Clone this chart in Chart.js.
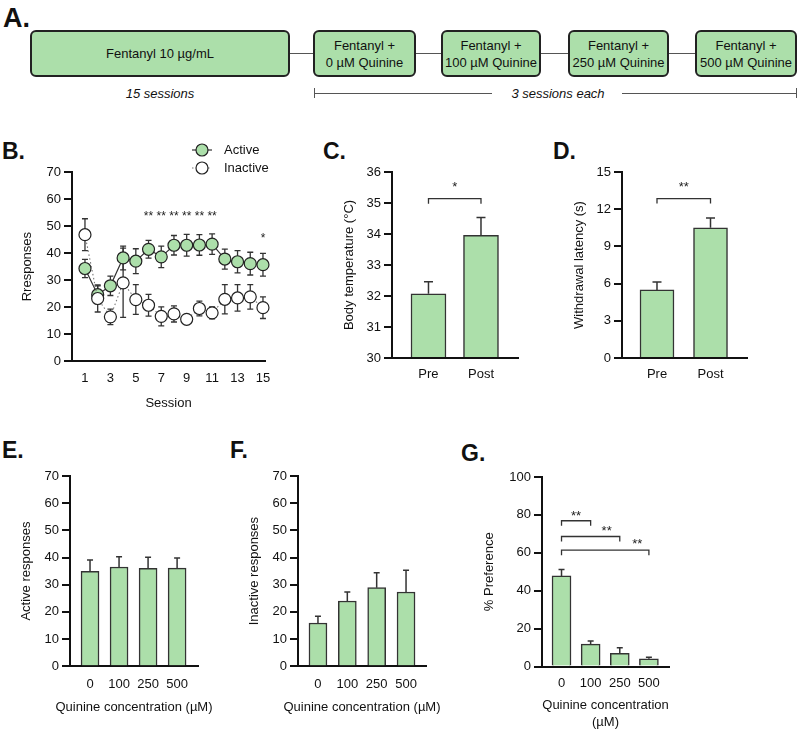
<!DOCTYPE html>
<html><head><meta charset="utf-8">
<script src="https://cdn.jsdelivr.net/npm/chart.js@4.4.0/dist/chart.umd.min.js"></script>
<style>
html,body{margin:0;padding:0;background:#fff;}
body{width:800px;height:729px;position:relative;overflow:hidden;font-family:'Liberation Sans',Arial,sans-serif;color:#111;}
.lbl{position:absolute;font-weight:bold;font-size:23px;line-height:1;}
.box{position:absolute;box-sizing:border-box;background:#acdfaa;border:2px solid #222;border-radius:6px;display:flex;align-items:center;justify-content:center;text-align:center;font-size:13px;line-height:17px;white-space:nowrap;}
.hl{position:absolute;height:0;border-top:1.5px solid #555;}
.vl{position:absolute;width:0;border-left:1.5px solid #555;}
.it{position:absolute;font-style:italic;font-size:13px;transform:translate(-50%,-50%);white-space:nowrap;}
canvas{position:absolute;}
</style></head><body>
<div class="lbl" style="left:3px;top:5px;font-size:27px;">A.</div>
<div class="box" style="left:30px;top:30px;width:260px;height:47px;">Fentanyl 10 µg/mL</div>
<div class="box" style="left:313px;top:30px;width:103px;height:47px;">Fentanyl +<br>0 µM Quinine</div>
<div class="box" style="left:441px;top:30px;width:100px;height:47px;">Fentanyl +<br>100 µM Quinine</div>
<div class="box" style="left:568px;top:30px;width:101px;height:47px;">Fentanyl +<br>250 µM Quinine</div>
<div class="box" style="left:695px;top:30px;width:102px;height:47px;">Fentanyl +<br>500 µM Quinine</div>
<div class="hl" style="left:290px;top:53px;width:23px;"></div>
<div class="hl" style="left:416px;top:53px;width:25px;"></div>
<div class="hl" style="left:541px;top:53px;width:27px;"></div>
<div class="hl" style="left:669px;top:53px;width:26px;"></div>
<div class="it" style="left:160px;top:93px;">15 sessions</div>
<div class="vl" style="left:314px;top:88px;height:10px;"></div>
<div class="hl" style="left:314px;top:93px;width:178px;"></div>
<div class="it" style="left:558px;top:93px;">3 sessions each</div>
<div class="hl" style="left:622px;top:93px;width:175px;"></div>
<div class="vl" style="left:796px;top:88px;height:10px;"></div>

<div class="lbl" style="left:2px;top:140px;">B.</div>
<div class="lbl" style="left:323px;top:140px;">C.</div>
<div class="lbl" style="left:553px;top:140px;">D.</div>
<div class="lbl" style="left:2px;top:439px;">E.</div>
<div class="lbl" style="left:230px;top:439px;">F.</div>
<div class="lbl" style="left:461px;top:442px;">G.</div>

<script>
// ---------- data ----------
const sessions = [1,2,3,4,5,6,7,8,9,10,11,12,13,14,15];
const sessionTicks = [1,3,5,7,9,11,13,15];
const activeMean = [34.3,24.6,27.9,38.2,37.0,41.4,38.6,42.9,42.9,43.0,43.3,37.8,36.8,36.1,35.7];
const activeSem  = [3.4,3.3,3.6,4.4,4.6,3.3,4.0,3.6,4.0,3.8,3.8,3.7,4.1,4.2,4.2];
const inactiveMean = [46.8,23.2,16.4,29.0,22.8,20.7,16.6,17.5,15.5,19.5,17.9,22.9,23.4,23.8,19.8];
const inactiveSem  = [5.9,5.0,2.9,12.8,5.5,4.0,3.5,3.0,1.0,2.7,2.2,5.4,4.9,4.5,4.0];
const sigSessions = [6,7,8,9,10,11,15];
const sigMarks = ['**','**','**','**','**','**','*'];

const prePostLabels = ['Pre','Post'];
const bodyTemp = [32.07, 33.96];
const bodyTempSem = [0.39, 0.57];
const latency = [5.49, 10.5];
const latencySem = [0.64, 0.8];

const quinineLabels = ['0','100','250','500'];
const activeResp = [34.9, 36.5, 36.0, 36.1];
const activeRespSem = [4.2, 3.8, 4.1, 3.7];
const inactiveResp = [15.9, 24.0, 28.9, 27.3];
const inactiveRespSem = [2.5, 3.3, 5.5, 8.0];
const preference = [47.8, 11.8, 7.0, 4.1];
const preferenceSem = [3.4, 1.6, 2.9, 0.8];

// ---------- styling ----------
const GREEN = '#acdfaa';
const INK = '#111';
const FAM = "'Liberation Sans', Arial, sans-serif";
Chart.defaults.font.family = FAM;
Chart.defaults.font.size = 13;
Chart.defaults.color = INK;
Chart.defaults.animation = false;
Chart.defaults.plugins.legend.display = false;
Chart.defaults.plugins.tooltip.enabled = false;

function drawErr(chart, opts){
  const {ctx, scales:{x, y}} = chart;
  ctx.save();
  ctx.strokeStyle = opts.color || '#333';
  ctx.lineWidth = opts.width || 1.4;
  const cap = opts.cap || 6;
  opts.sets.forEach(set => {
    set.xs.forEach((xv, i) => {
      const px = x.getPixelForValue(xv);
      const m = set.mean[i], e = set.sem[i];
      const pt = y.getPixelForValue(m + e), pm = y.getPixelForValue(m), pb = y.getPixelForValue(m - e);
      ctx.beginPath();
      ctx.moveTo(px, set.both ? pb : pm); ctx.lineTo(px, pt);
      ctx.moveTo(px - cap/2, pt); ctx.lineTo(px + cap/2, pt);
      if (set.both) { ctx.moveTo(px - cap/2, pb); ctx.lineTo(px + cap/2, pb); }
      ctx.stroke();
    });
  });
  ctx.restore();
}
const errorBars = {
  id: 'errorBars',
  beforeDatasetsDraw(chart, args, opts){ if (opts && opts.sets && opts.under) drawErr(chart, opts); },
  afterDatasetsDraw(chart, args, opts){ if (opts && opts.sets && !opts.under) drawErr(chart, opts); }
};
const annot = {
  id: 'annot',
  afterDraw(chart, args, opts){
    if (!opts || !opts.items) return;
    const {ctx, scales:{x, y}} = chart;
    ctx.save();
    opts.items.forEach(it => {
      if (it.type === 'bracket') {
        const x1 = x.getPixelForValue(it.x1), x2 = x.getPixelForValue(it.x2), py = y.getPixelForValue(it.y);
        ctx.strokeStyle = '#333'; ctx.lineWidth = 1.3;
        ctx.beginPath();
        ctx.moveTo(x1, py + it.drop); ctx.lineTo(x1, py); ctx.lineTo(x2, py); ctx.lineTo(x2, py + it.drop);
        ctx.stroke();
      } else if (it.type === 'text') {
        const size = it.size || 13;
        ctx.fillStyle = '#222';
        ctx.font = size + "px " + FAM;
        ctx.textAlign = 'center'; ctx.textBaseline = 'alphabetic';
        ctx.fillText(it.text, x.getPixelForValue(it.x), y.getPixelForValue(it.y) + 0.57 * size);
      }
    });
    ctx.restore();
  }
};
const xTitleFree = {
  id: 'xTitleFree',
  afterDraw(chart, args, opts){
    if (!opts || !opts.lines) return;
    const {ctx, chartArea} = chart;
    ctx.save();
    ctx.fillStyle = INK; ctx.font = "13px " + FAM;
    ctx.textAlign = 'center'; ctx.textBaseline = 'middle';
    const cx = (chartArea.left + chartArea.right) / 2;
    opts.lines.forEach((t, k) => ctx.fillText(t, cx, opts.y + k * opts.lh));
    ctx.restore();
  }
};
const legendB = {
  id: 'legendB',
  afterDraw(chart, args, opts){
    if (!opts || !opts.items) return;
    const {ctx, chartArea} = chart;
    ctx.save();
    opts.items.forEach((it, k) => {
      const cx = chartArea.left + opts.dx, cy = chartArea.top + opts.dy + k * opts.gap;
      ctx.strokeStyle = it.line; ctx.lineWidth = 1.2;
      ctx.setLineDash(it.dash || []);
      ctx.beginPath(); ctx.moveTo(cx - 10, cy); ctx.lineTo(cx + 10, cy); ctx.stroke();
      ctx.setLineDash([]);
      ctx.beginPath(); ctx.arc(cx, cy, 6, 0, Math.PI * 2);
      ctx.fillStyle = it.fill; ctx.fill();
      ctx.strokeStyle = '#222'; ctx.lineWidth = 1.2; ctx.stroke();
      ctx.fillStyle = INK; ctx.font = "13px " + FAM;
      ctx.textAlign = 'left'; ctx.textBaseline = 'middle';
      ctx.fillText(it.label, cx + 22, cy);
    });
    ctx.restore();
  }
};

function panel(cfg){
  const lh = 15.6;
  const cl = Math.round(cfg.yTitleX - lh / 2);
  const padTop = 45, padRight = 25, padBottom = 4;
  const ct = cfg.area.t - padTop;
  const lines = cfg.xTitle ? (Array.isArray(cfg.xTitle) ? cfg.xTitle : [cfg.xTitle]) : null;
  const xlh = cfg.xTitleLH || lh;
  const xH = lines ? (cfg.xTitleY - cfg.area.b) + xlh / 2 + xlh * (lines.length - 1) : 30;
  const W = cfg.area.r + padRight - cl;
  const H = Math.ceil(cfg.area.b + xH + padBottom - ct);
  const c = document.createElement('canvas');
  c.width = W; c.height = H;
  c.style.left = cl + 'px'; c.style.top = ct + 'px';
  c.style.width = W + 'px'; c.style.height = H + 'px';
  document.body.appendChild(c);
  return new Chart(c, {
    type: cfg.type,
    data: { datasets: cfg.datasets },
    plugins: [errorBars, annot, legendB, xTitleFree],
    options: {
      responsive: false,
      devicePixelRatio: 1,
      layout: { padding: { left: 0, top: padTop, right: padRight, bottom: padBottom } },
      scales: {
        x: {
          type: 'linear', min: cfg.xMin, max: cfg.xMax, offset: false,
          afterBuildTicks: s => { s.ticks = cfg.xTicks.map(v => ({ value: v })); },
          ticks: { padding: cfg.xPad, callback: cfg.xLabel, autoSkip: false, maxRotation: 0, color: INK, font: { size: 13 } },
          grid: { display: false, drawTicks: false, offset: false },
          border: { display: true, width: 2, color: INK },
          title: { display: false },
          afterFit: s => { s.height = xH; }
        },
        y: {
          min: cfg.yMin, max: cfg.yMax,
          ticks: { stepSize: cfg.yStep, padding: 3, color: INK, font: { size: 13 } },
          grid: { display: true, drawOnChartArea: false, drawTicks: true, tickLength: 8, lineWidth: 2, color: INK },
          border: { display: true, width: 2, color: INK },
          title: { display: true, text: cfg.yTitle, padding: 0, color: INK, font: { size: 13 } },
          afterFit: s => { s.width = cfg.area.l - cl; }
        }
      },
      plugins: {
        errorBars: cfg.err,
        annot: { items: cfg.annot || [] },
        legendB: cfg.legend || {},
        xTitleFree: lines ? { lines: lines, y: cfg.xTitleY - ct, lh: xlh } : {}
      }
    }
  });
}

function barSet(vals, yMin, thick){
  return [{
    type: 'bar',
    data: vals.map((v, i) => ({ x: i, y: v })),
    backgroundColor: GREEN, borderColor: '#333', borderWidth: 1.5,
    barThickness: thick, base: yMin
  }];
}
const idx = arr => arr.map((_, i) => i);

// ---------- B ----------
panel({
  type: 'line',
  area: { l: 72, t: 172, r: 265, b: 361 },
  yTitleX: 28, yTitle: 'Rresponses', yMin: 0, yMax: 70, yStep: 10,
  xMin: -0.02, xMax: 15.16, xTicks: sessionTicks, xLabel: v => String(v), xPad: 9,
  xTitle: 'Session', xTitleY: 403,
  datasets: [
    { label: 'Inactive', order: 0, data: sessions.map((s, i) => ({ x: s, y: inactiveMean[i] })),
      borderColor: '#777', borderWidth: 1.1, borderDash: [1.5, 2.5], pointRadius: 6,
      pointBackgroundColor: '#fff', pointBorderColor: '#222', pointBorderWidth: 1.2, clip: false, tension: 0 },
    { label: 'Active', order: 1, data: sessions.map((s, i) => ({ x: s, y: activeMean[i] })),
      borderColor: '#333', borderWidth: 1.2, pointRadius: 6,
      pointBackgroundColor: GREEN, pointBorderColor: '#222', pointBorderWidth: 1.2, clip: false, tension: 0 }
  ],
  err: { under: true, cap: 6, width: 1.3, sets: [
    { xs: sessions, mean: activeMean, sem: activeSem, both: true },
    { xs: sessions, mean: inactiveMean, sem: inactiveSem, both: true }
  ] },
  annot: sigSessions.map((s, i) => ({ type: 'text', x: s, y: sigMarks[i] === '*' ? 46.8 : 54.8, text: sigMarks[i], size: 12 })),
  legend: { dx: 130, dy: -22, gap: 18, items: [
    { label: 'Active', fill: GREEN, line: '#333' },
    { label: 'Inactive', fill: '#fff', line: '#777', dash: [1.5, 2.5] }
  ] }
});

// ---------- C ----------
panel({
  type: 'bar',
  area: { l: 392, t: 172, r: 518, b: 358 },
  yTitleX: 350, yTitle: 'Body temperature (°C)', yMin: 30, yMax: 36, yStep: 1,
  xMin: -0.695, xMax: 1.705, xTicks: idx(prePostLabels), xLabel: v => prePostLabels[v], xPad: 9,
  datasets: barSet(bodyTemp, 30, 35),
  err: { cap: 9, width: 1.5, sets: [{ xs: idx(prePostLabels), mean: bodyTemp, sem: bodyTempSem }] },
  annot: [
    { type: 'bracket', x1: 0, x2: 1, y: 35.14, drop: 5 },
    { type: 'text', x: 0.5, y: 35.62, text: '*', size: 13 }
  ]
});

// ---------- D ----------
panel({
  type: 'bar',
  area: { l: 622, t: 172, r: 747, b: 358 },
  yTitleX: 580, yTitle: 'Withdrawal latency (s)', yMin: 0, yMax: 15, yStep: 3,
  xMin: -0.654, xMax: 1.682, xTicks: idx(prePostLabels), xLabel: v => prePostLabels[v], xPad: 9,
  datasets: barSet(latency, 0, 34),
  err: { cap: 9, width: 1.5, sets: [{ xs: idx(prePostLabels), mean: latency, sem: latencySem }] },
  annot: [
    { type: 'bracket', x1: 0, x2: 1, y: 12.86, drop: 5 },
    { type: 'text', x: 0.5, y: 14.1, text: '**', size: 13 }
  ]
});

// ---------- E ----------
panel({
  type: 'bar',
  area: { l: 70, t: 476, r: 198, b: 666 },
  yTitleX: 27, yTitle: 'Active responses', yMin: 0, yMax: 70, yStep: 10,
  xMin: -0.69, xMax: 3.72, xTicks: idx(quinineLabels), xLabel: v => quinineLabels[v], xPad: 10,
  xTitle: 'Quinine concentration (µM)', xTitleY: 707,
  datasets: barSet(activeResp, 0, 18),
  err: { cap: 6, width: 1.5, sets: [{ xs: idx(quinineLabels), mean: activeResp, sem: activeRespSem }] }
});

// ---------- F ----------
panel({
  type: 'bar',
  area: { l: 298, t: 476, r: 426, b: 666 },
  yTitleX: 255, yTitle: 'Inactive responses', yMin: 0, yMax: 70, yStep: 10,
  xMin: -0.68, xMax: 3.68, xTicks: idx(quinineLabels), xLabel: v => quinineLabels[v], xPad: 10,
  xTitle: 'Quinine concentration (µM)', xTitleY: 707,
  datasets: barSet(inactiveResp, 0, 18),
  err: { cap: 6, width: 1.5, sets: [{ xs: idx(quinineLabels), mean: inactiveResp, sem: inactiveRespSem }] }
});

// ---------- G ----------
panel({
  type: 'bar',
  area: { l: 542, t: 477, r: 669, b: 666 },
  yTitleX: 490, yTitle: '% Preference', yMin: 0, yMax: 100, yStep: 20,
  xMin: -0.67, xMax: 3.69, xTicks: idx(quinineLabels), xLabel: v => quinineLabels[v], xPad: 9,
  xTitle: ['Quinine concentration', '(µM)'], xTitleY: 705, xTitleLH: 17,
  datasets: barSet(preference, 0, 19),
  err: { cap: 6, width: 1.5, sets: [{ xs: idx(quinineLabels), mean: preference, sem: preferenceSem }] },
  annot: [
    { type: 'bracket', x1: 0, x2: 1, y: 76.9, drop: 5 },
    { type: 'text', x: 0.5, y: 81.4, text: '**', size: 13 },
    { type: 'bracket', x1: 0, x2: 2, y: 68.6, drop: 5 },
    { type: 'text', x: 1.55, y: 73.3, text: '**', size: 13 },
    { type: 'bracket', x1: 0, x2: 3, y: 61.4, drop: 5 },
    { type: 'text', x: 2.6, y: 66.3, text: '**', size: 13 }
  ]
});
</script>
</body></html>
